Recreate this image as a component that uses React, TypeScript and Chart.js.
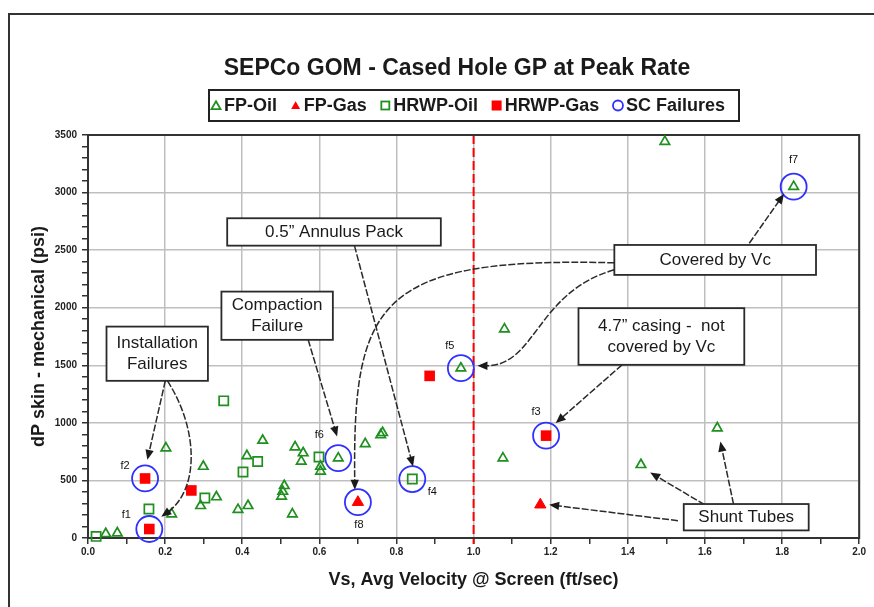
import { useEffect, useRef } from 'react';
import { Chart, registerables } from 'chart.js';

Chart.register(...registerables);

// ---------------- data ----------------
const fpOilX = [0.046, 0.076, 0.202, 0.217, 0.292, 0.299, 0.333, 0.389, 0.412, 0.415, 0.453, 0.502, 0.505, 0.509, 0.530, 0.537, 0.553, 0.558, 0.603, 0.603, 0.649, 0.719, 0.759, 0.764, 0.967, 1.076, 1.080, 1.434, 1.496, 1.632, 1.830];
const fpOilY = [37, 43, 781, 208, 280, 621, 356, 246, 714, 280, 847, 361, 404, 454, 208, 790, 665, 738, 578, 621, 694, 818, 896, 914, 1475, 694, 1814, 636, 3442, 955, 3051];
const fpGasX = [0.700, 1.173];
const fpGasY = [311, 289];
const hrwpOilX = [0.021, 0.158, 0.303, 0.352, 0.402, 0.440, 0.599, 0.841];
const hrwpOilY = [14, 252, 347, 1191, 573, 665, 703, 512];
const hrwpGasX = [0.148, 0.159, 0.268, 0.886, 1.188];
const hrwpGasY = [517, 78, 413, 1408, 889];
const scX = [0.159, 0.148, 1.188, 0.841, 0.967, 0.649, 1.830, 0.700];
const scY = [78, 517, 889, 512, 1475, 694, 3051, 311];
const scNames = ['f1', 'f2', 'f3', 'f4', 'f5', 'f6', 'f7', 'f8'];
const seriesNames = ['FP-Oil', 'FP-Gas', 'HRWP-Oil', 'HRWP-Gas', 'SC Failures'];

const xMin = 0, xMax = 2, xStep = 0.1;
const yMin = 0, yMax = 3500, yStep = 100, yLabelStep = 500;
const vcLine = 1.0;

const titleText = 'SEPCo GOM - Cased Hole GP at Peak Rate';
const xTitle = 'Vs, Avg Velocity @ Screen (ft/sec)';
const yTitle = 'dP skin - mechanical (psi)';

// ---------------- annotations (decoration, in data units) ----------------
const calloutBoxes = [
  { text: ['Installation', 'Failures'], x1: 0.048, y1: 1836, x2: 0.311, y2: 1365 },
  { text: ['Compaction', 'Failure'], x1: 0.346, y1: 2140, x2: 0.635, y2: 1721 },
  { text: ['0.5\u201D Annulus Pack'], x1: 0.361, y1: 2777, x2: 0.915, y2: 2539 },
  { text: ['Covered by Vc'], x1: 1.365, y1: 2545, x2: 1.888, y2: 2285 },
  { text: ['4.7\u201D casing -  not', 'covered by Vc'], x1: 1.272, y1: 1996, x2: 1.702, y2: 1504 },
  { text: ['Shunt Tubes'], x1: 1.545, y1: 295, x2: 1.869, y2: 66 },
];
const calloutArrows: number[][][] = [
  [[0.2005, 1366], [0.154, 679]],
  [[0.2057, 1366], [0.288, 940], [0.288, 419], [0.190, 185]],
  [[0.571, 1721], [0.646, 882]],
  [[0.691, 2539], [0.843, 621]],
  [[1.365, 2390], [0.751, 2443], [0.686, 2053], [0.692, 419]],
  [[1.365, 2329], [1.162, 2138], [1.162, 1488], [1.010, 1497]],
  [[1.715, 2560], [1.805, 2988]],
  [[1.385, 1504], [1.213, 998]],
  [[1.530, 150], [1.196, 289]],
  [[1.599, 289], [1.458, 569]],
  [[1.674, 295], [1.640, 838]],
];
const failureLabelOffsets = [[-23, -14], [-20, -13], [-10, -24], [20, 13], [-11, -22], [-19, -23], [0, -27], [1, 23]];

const GREEN = '#1f8f1f';
const RED = '#ff0000';
const BLUE = '#3030ff';
const GRID = '#bfbfbf';
const FONT = '"Liberation Sans", Arial, Helvetica, sans-serif';

const zip = (xs: number[], ys: number[]) => xs.map((x, i) => ({ x, y: ys[i] }));

function drawMarker(ctx: CanvasRenderingContext2D, kind: string, cx: number, cy: number) {
  ctx.save();
  ctx.lineWidth = 1.8;
  if (kind === 'triOpen' || kind === 'triFill') {
    const r = 5.2;
    ctx.beginPath();
    for (let k = 0; k < 3; k++) {
      const a = (k * 2 * Math.PI) / 3;
      const px = cx + Math.sin(a) * r;
      const py = cy - Math.cos(a) * r + 1;
      if (k === 0) ctx.moveTo(px, py); else ctx.lineTo(px, py);
    }
    ctx.closePath();
    if (kind === 'triOpen') { ctx.strokeStyle = GREEN; ctx.stroke(); } else { ctx.fillStyle = RED; ctx.fill(); }
  } else if (kind === 'sqOpen') {
    ctx.strokeStyle = GREEN; ctx.strokeRect(cx - 4, cy - 4, 8, 8);
  } else if (kind === 'sqFill') {
    ctx.fillStyle = RED; ctx.fillRect(cx - 5, cy - 5, 10, 10);
  } else {
    ctx.strokeStyle = BLUE; ctx.beginPath(); ctx.arc(cx, cy, 5, 0, Math.PI * 2); ctx.stroke();
  }
  ctx.restore();
}

function arrowHead(ctx: CanvasRenderingContext2D, fx: number, fy: number, tx: number, ty: number) {
  const a = Math.atan2(ty - fy, tx - fx);
  const len = 10, w = 4.2;
  ctx.beginPath();
  ctx.moveTo(tx, ty);
  ctx.lineTo(tx - len * Math.cos(a) + w * Math.sin(a), ty - len * Math.sin(a) - w * Math.cos(a));
  ctx.lineTo(tx - len * Math.cos(a) - w * Math.sin(a), ty - len * Math.sin(a) + w * Math.cos(a));
  ctx.closePath();
  ctx.fill();
}

const decorPlugin = {
  id: 'decor',
  beforeDraw(chart: any) {
    const { ctx, width, height } = chart;
    ctx.save();
    ctx.fillStyle = '#fff';
    ctx.fillRect(0, 0, width, height);
    // outer frame
    ctx.strokeStyle = '#333';
    ctx.lineWidth = 2;
    ctx.strokeRect(9, 14, width + 40, height + 40);
    // title
    ctx.fillStyle = '#1a1a1a';
    ctx.font = `bold 23px ${FONT}`;
    ctx.textAlign = 'center';
    ctx.textBaseline = 'middle';
    ctx.fillText(titleText, 457, 69);
    // legend
    const kinds = ['triOpen', 'triFill', 'sqOpen', 'sqFill', 'circ'];
    ctx.font = `bold 18px ${FONT}`;
    const widths = seriesNames.map((s) => ctx.measureText(s).width);
    const bx1 = 209, bx2 = 739, by1 = 90, by2 = 121;
    ctx.fillStyle = '#fff';
    ctx.fillRect(bx1, by1, bx2 - bx1, by2 - by1);
    ctx.strokeStyle = '#222';
    ctx.lineWidth = 2;
    ctx.strokeRect(bx1, by1, bx2 - bx1, by2 - by1);
    const lead = 13;
    const textSum = widths.reduce((a, b) => a + b, 0);
    const gap = (725 - 211 - textSum - seriesNames.length * lead) / (seriesNames.length - 1);
    let x = 211;
    const cy = (by1 + by2) / 2;
    ctx.textAlign = 'left';
    seriesNames.forEach((s, i) => {
      drawMarker(ctx, kinds[i], x + 5, cy);
      ctx.fillStyle = '#1a1a1a';
      ctx.font = `bold 18px ${FONT}`;
      ctx.textBaseline = 'middle';
      ctx.fillText(s, x + lead, cy + 1);
      x += lead + widths[i] + gap;
    });
    ctx.restore();
  },
  beforeDatasetsDraw(chart: any) {
    const { ctx, chartArea: a, scales } = chart;
    ctx.save();
    const vx = scales.x.getPixelForValue(vcLine);
    ctx.strokeStyle = RED;
    ctx.lineWidth = 2;
    ctx.setLineDash([9, 4]);
    ctx.beginPath();
    ctx.moveTo(vx, a.top);
    ctx.lineTo(vx, a.bottom + 6);
    ctx.stroke();
    ctx.setLineDash([]);
    ctx.strokeStyle = '#333';
    ctx.lineWidth = 2;
    ctx.strokeRect(a.left, a.top, a.right - a.left, a.bottom - a.top);
    ctx.restore();
  },
  afterDatasetsDraw(chart: any) {
    const { ctx, scales } = chart;
    const X = (v: number) => scales.x.getPixelForValue(v);
    const Y = (v: number) => scales.y.getPixelForValue(v);
    ctx.save();
    ctx.strokeStyle = '#2a2a2a';
    ctx.fillStyle = '#1a1a1a';
    ctx.lineWidth = 1.5;
    calloutArrows.forEach((pts) => {
      const p = pts.map(([a, b]) => [X(a), Y(b)]);
      const n = p.length;
      const [fx, fy] = p[n - 2];
      const [tx, ty] = p[n - 1];
      const ang = Math.atan2(ty - fy, tx - fx);
      const ex = tx - 8 * Math.cos(ang), ey = ty - 8 * Math.sin(ang);
      ctx.setLineDash([7, 2]);
      ctx.beginPath();
      ctx.moveTo(p[0][0], p[0][1]);
      if (n === 2) ctx.lineTo(ex, ey);
      else ctx.bezierCurveTo(p[1][0], p[1][1], p[2][0], p[2][1], ex, ey);
      ctx.stroke();
      ctx.setLineDash([]);
      arrowHead(ctx, fx, fy, tx, ty);
    });
    ctx.font = `17px ${FONT}`;
    ctx.textAlign = 'center';
    ctx.textBaseline = 'middle';
    calloutBoxes.forEach((b) => {
      const x1 = X(b.x1), x2 = X(b.x2), y1 = Y(b.y1), y2 = Y(b.y2);
      ctx.fillStyle = '#fff';
      ctx.fillRect(x1, y1, x2 - x1, y2 - y1);
      ctx.strokeStyle = '#2a2a2a';
      ctx.lineWidth = 1.8;
      ctx.strokeRect(x1, y1, x2 - x1, y2 - y1);
      ctx.fillStyle = '#1a1a1a';
      const lh = 21;
      const cy = (y1 + y2) / 2;
      b.text.forEach((t, i) => {
        ctx.fillText(t, (x1 + x2) / 2, cy + (i - (b.text.length - 1) / 2) * lh);
      });
    });
    ctx.font = `11px ${FONT}`;
    ctx.fillStyle = '#111';
    scNames.forEach((nm, i) => {
      const [dx, dy] = failureLabelOffsets[i];
      ctx.fillText(nm, X(scX[i]) + dx, Y(scY[i]) + dy);
    });
    ctx.restore();
  },
};

export default function App() {
  const ref = useRef<HTMLCanvasElement>(null);
  useEffect(() => {
    const canvas = ref.current!;
    Chart.defaults.font.family = FONT;
    const chart = new Chart(canvas, {
      type: 'scatter',
      data: {
        datasets: [
          {
            label: seriesNames[0], data: zip(fpOilX, fpOilY), pointStyle: 'triangle', pointRadius: 5.5,
            pointBorderColor: GREEN, pointBackgroundColor: 'rgba(255,255,255,0)', pointBorderWidth: 1.7, clip: false,
          },
          {
            label: seriesNames[1], data: zip(fpGasX, fpGasY), pointStyle: 'triangle', pointRadius: 6.5,
            pointBorderColor: RED, pointBackgroundColor: RED, pointBorderWidth: 1, clip: false,
          },
          {
            label: seriesNames[2], data: zip(hrwpOilX, hrwpOilY), pointStyle: 'rect', pointRadius: 6.5,
            pointBorderColor: GREEN, pointBackgroundColor: 'rgba(255,255,255,0)', pointBorderWidth: 1.7, clip: false,
          },
          {
            label: seriesNames[3], data: zip(hrwpGasX, hrwpGasY), pointStyle: 'rect', pointRadius: 7.5,
            pointBorderColor: RED, pointBackgroundColor: RED, pointBorderWidth: 0, clip: false,
          },
          {
            label: seriesNames[4], data: zip(scX, scY), pointStyle: 'circle', pointRadius: 13,
            pointBorderColor: BLUE, pointBackgroundColor: 'rgba(255,255,255,0)', pointBorderWidth: 1.8, clip: false,
          },
        ] as any,
      },
      options: {
        responsive: false,
        devicePixelRatio: 1,
        animation: false,
        events: [],
        layout: { padding: { left: 0, right: 9, top: 135, bottom: 0 } },
        plugins: { legend: { display: false }, title: { display: false }, tooltip: { enabled: false } },
        scales: {
          x: {
            type: 'linear', position: 'bottom', min: xMin, max: xMax,
            ticks: {
              stepSize: xStep, autoSkip: false, maxRotation: 0, padding: 2, color: '#222',
              font: { size: 10, weight: 'bold' },
              callback: (v: any) => (Math.round(Number(v) * 10) % 2 === 0 ? Number(v).toFixed(1) : ''),
            },
            grid: {
              color: (c: any) => (c.tick && Math.round(c.tick.value * 10) % 2 === 0 ? GRID : 'rgba(0,0,0,0)'),
              lineWidth: 1.5, tickColor: '#333', tickLength: 6, tickWidth: 1.5,
            },
            border: { color: '#333', width: 2 },
            title: { display: true, text: xTitle, color: '#1a1a1a', font: { size: 18, weight: 'bold' }, padding: { top: 0, bottom: 16 } },
            afterFit: (s: any) => { s.height = 69; },
          },
          y: {
            type: 'linear', min: yMin, max: yMax,
            ticks: {
              stepSize: yStep, autoSkip: false, padding: 5, color: '#222',
              font: { size: 10, weight: 'bold' },
              callback: (v: any) => (Number(v) % yLabelStep === 0 ? String(v) : ''),
            },
            grid: {
              color: (c: any) => (c.tick && c.tick.value % yLabelStep === 0 ? GRID : 'rgba(0,0,0,0)'),
              lineWidth: 1.5, tickColor: '#333', tickLength: 6, tickWidth: 1.5,
            },
            border: { color: '#333', width: 2 },
            title: { display: true, text: yTitle, color: '#1a1a1a', font: { size: 18, weight: 'bold' }, padding: { top: 28, bottom: 0 } },
            afterFit: (s: any) => { s.width = 88; },
          },
        },
      } as any,
      plugins: [decorPlugin],
    });
    return () => chart.destroy();
  }, []);
  return (
    <div style={{ position: 'fixed', left: 0, top: 0, width: 874, height: 607, background: '#fff', overflow: 'hidden' }}>
      <canvas ref={ref} width={874} height={607} style={{ display: 'block', width: 874, height: 607 }} />
    </div>
  );
}
